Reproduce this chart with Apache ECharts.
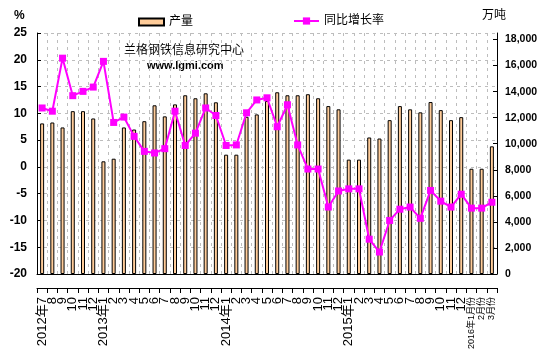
<!DOCTYPE html>
<html>
<head>
<meta charset="utf-8">
<script src="https://cdn.jsdelivr.net/npm/echarts@6/dist/echarts.min.js"></script>
<style>
  html, body { margin: 0; padding: 0; background: #fff; }
  #chart { width: 550px; height: 353px; }
</style>
</head>
<body>
<div id="chart"></div>
<script>
  // 月份
  var categories = [
    '2012年7', '8', '9', '10', '11', '12',
    '2013年1', '2', '3', '4', '5', '6', '7', '8', '9', '10', '11', '12',
    '2014年1', '2', '3', '4', '5', '6', '7', '8', '9', '10', '11', '12',
    '2015年1', '2', '3', '4', '5', '6', '7', '8', '9', '10', '11', '12',
    '2016年1月份', '2月份', '3月份'
  ];

  // 产量(万吨)
  var output = [
    11560, 11630, 11250, 12500, 12500, 11940,
    8650, 8850, 11250, 11090, 11730, 12950, 12100, 13020, 13720, 13490, 13870, 13180,
    9160, 9160, 12070, 12250, 13280, 13950, 13720, 13720, 13800, 13490, 12890, 12640,
    8780, 8780, 10480, 10400, 11810, 12890, 12640, 12410, 13200, 12580, 11810, 12040,
    8080, 8080, 9800
  ];

  // 同比增长率(%)
  var growth = [
    11.0, 10.4, 20.3, 13.3, 14.1, 14.9,
    19.7, 8.3, 9.3, 5.7, 2.9, 2.6, 3.4, 10.4, 4.0, 6.3, 11.0, 9.6,
    4.0, 4.1, 10.1, 12.5, 12.9, 7.5, 11.6, 4.1, -0.4, -0.4, -7.5, -4.5,
    -4.1, -4.1, -13.5, -15.9, -10.0, -7.9, -7.5, -9.6, -4.4, -6.4, -7.5, -5.1,
    -7.7, -7.7, -6.6
  ];

  var leftTicks = { min: -20, max: 25, interval: 5 };
  var rightTicks = { min: 0, max: 18500, interval: 2000 };

  var numFont = '"Liberation Sans", Arial, sans-serif';
  var cjkFont = '"Liberation Sans", "Noto Sans CJK SC", sans-serif';

  var chart = echarts.init(document.getElementById('chart'));

  var option = {
    animation: false,
    backgroundColor: '#fff',
    textStyle: { fontFamily: cjkFont, color: '#000' },
    grid: { left: 37, right: 53, top: 33, bottom: 79, containLabel: false, outerBoundsMode: 'none' },
    legend: [
      {
        data: ['产量'],
        left: 133, top: 11,
        itemWidth: 25, itemHeight: 7,
        icon: 'rect',
        textStyle: { fontSize: 12, color: '#000', fontFamily: cjkFont }
      },
      {
        data: ['同比增长率'],
        left: 288, top: 10,
        itemWidth: 25, itemHeight: 9,
        textStyle: { fontSize: 12, color: '#000', fontFamily: cjkFont }
      }
    ],
    graphic: [
      { type: 'text', left: 14, top: 10, style: { text: '%', font: 'bold 12px ' + numFont, fill: '#000' } },
      { type: 'text', left: 482, top: 8, style: { text: '万吨', font: '12px "Noto Sans CJK SC", sans-serif', fill: '#000' } },
      { type: 'text', left: 124, top: 43, style: { text: '兰格钢铁信息研究中心', font: '12px "Noto Sans CJK SC", sans-serif', fill: '#000' } },
      { type: 'text', left: 147, top: 60, style: { text: 'www.lgmi.com', font: 'bold 11px ' + numFont, fill: '#000' } }
    ],
    xAxis: [
      {
        type: 'category',
        data: categories,
        position: 'bottom',
        offset: 14,
        axisLine: { onZero: false, lineStyle: { color: '#000', width: 1 } },
        axisTick: { show: true, alignWithLabel: false, length: 5, lineStyle: { color: '#000' } },
        axisLabel: {
          interval: 0, rotate: 90, fontSize: 13, margin: 9,
          color: '#000', fontFamily: cjkFont,
          formatter: function (v) {
            return v.indexOf('月份') >= 0 ? '{s|' + v + '}' : v;
          },
          rich: { s: { fontSize: 9, fontFamily: cjkFont, color: '#000' } }
        },
        splitLine: { show: false }
      },
      {
        type: 'category',
        data: categories,
        position: 'bottom',
        offset: 0,
        axisLine: { onZero: false, lineStyle: { color: '#000', width: 1 } },
        axisTick: { show: false },
        axisLabel: { show: false },
        splitLine: { show: true, interval: 0, lineStyle: { color: '#bdbdbd', type: [3, 4] } }
      }
    ],
    yAxis: [
      {
        type: 'value',
        min: leftTicks.min, max: leftTicks.max, interval: leftTicks.interval,
        axisLine: { show: true, lineStyle: { color: '#000' } },
        axisTick: { show: true, inside: true, length: 4, lineStyle: { color: '#000' } },
        axisLabel: { fontSize: 12, fontWeight: 'bold', color: '#000', margin: 10, fontFamily: numFont },
        splitLine: { show: true, lineStyle: { color: '#bdbdbd', type: [3, 4] } }
      },
      {
        type: 'value',
        min: rightTicks.min, max: rightTicks.max, interval: rightTicks.interval,
        position: 'right',
        axisLine: { show: true, lineStyle: { color: '#000' } },
        axisTick: { show: true, inside: true, length: 4, lineStyle: { color: '#000' } },
        axisLabel: { fontSize: 10.5, fontWeight: 'bold', color: '#000', margin: 8, showMaxLabel: false, fontFamily: numFont },
        splitLine: { show: false }
      }
    ],
    series: [
      {
        name: '产量',
        type: 'bar',
        yAxisIndex: 1,
        data: output,
        barWidth: 4,
        itemStyle: { color: '#FFCC99', borderColor: '#000', borderWidth: 1 }
      },
      {
        name: '同比增长率',
        type: 'line',
        yAxisIndex: 0,
        data: growth,
        symbol: 'rect',
        symbolSize: 7,
        itemStyle: { color: '#FF00FF' },
        lineStyle: { color: '#FF00FF', width: 2 },
        z: 5
      }
    ]
  };

  chart.setOption(option);
</script>
</body>
</html>
